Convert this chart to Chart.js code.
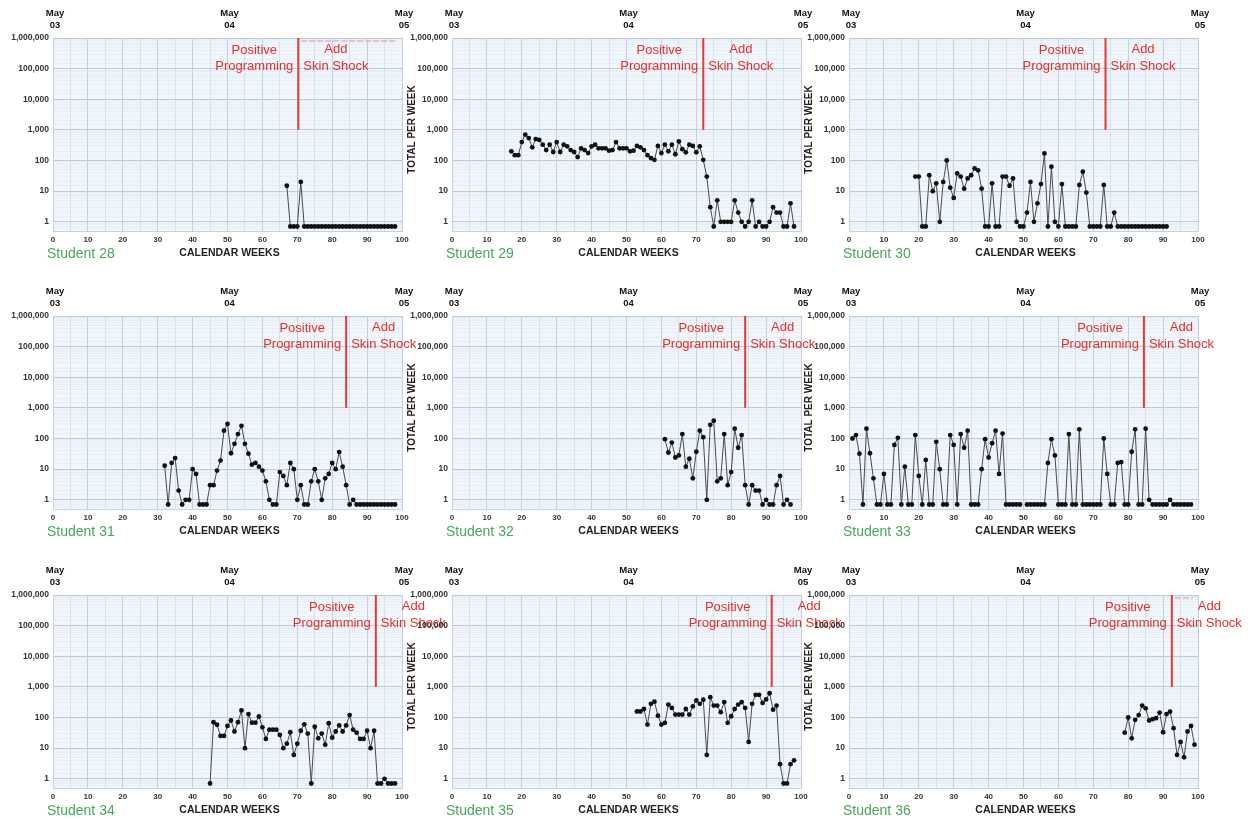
<!DOCTYPE html>
<html>
<head>
<meta charset="utf-8">
<script src="https://cdn.jsdelivr.net/npm/chart.js@4.4.1/dist/chart.umd.min.js"></script>
<style>
  html, body { margin: 0; padding: 0; background: #fff; overflow: hidden; }
  #wrap { position: relative; width: 1253px; height: 819px; }
  canvas { position: absolute; }
</style>
</head>
<body>
<div id="wrap"></div>
<script>
// weekly totals, 0 = no behaviors that week, null = no data
const students = ['Student 28', 'Student 29', 'Student 30', 'Student 31', 'Student 32', 'Student 33', 'Student 34', 'Student 35', 'Student 36'];
const startWeeks = [67, 17, 19, 32, 61, 1, 45, 53, 79];
const phaseWeeks = [70.3, 72, 73.5, 84, 84, 84.5, 92.5, 91.6, 92.5];

const s28 = [15, 0, 0, 0, 20, 0, 0, 0, 0, 0, 0, 0, 0, 0, 0, 0, 0, 0, 0, 0, 0, 0, 0, 0, 0, 0, 0, 0, 0, 0, 0, 0];
const s29 = [200, 150, 150, 400, 700, 540, 270, 500, 470, 330,
  220, 330, 190, 400, 190, 330, 290, 220, 190, 130,
  250, 220, 175, 290, 330, 250, 250, 250, 210, 220,
  400, 250, 250, 250, 200, 210, 300, 270, 220, 150,
  120, 105, 300, 175, 330, 200, 330, 160, 420, 235,
  185, 330, 300, 185, 290, 105, 30, 3, 0, 5,
  1, 1, 1, 1, 5, 2, 1, 0, 1, 5,
  0, 1, 0, 0, 1, 3, 2, 2, 0, 0,
  4, 0];
const s30 = [30, 30, 0, 0, 33, 10, 18, 1, 20, 100, 13, 6, 38, 30, 12, 26, 33, 55, 48, 12,
  0, 0, 18, 0, 0, 30, 30, 15, 26, 1, 0, 0, 2, 20, 1, 4, 17, 170, 0, 63,
  1, 0, 17, 0, 0, 0, 0, 16, 43, 9, 0, 0, 0, 0, 16, 0, 0, 2,
  0, 0, 0, 0, 0, 0, 0, 0, 0, 0, 0, 0, 0, 0, 0];
const s31 = [13, 0, 16, 23, 2, 0, 1, 1, 10, 7, 0, 0, 0, 3, 3, 9, 19, 180, 300, 33,
  67, 140, 260, 67, 32, 14, 16, 12, 9, 4, 1, 0, 0, 8, 6, 3, 16, 10, 1, 3,
  0, 0, 4, 10, 4, 1, 5, 7, 16, 10, 36, 12, 3, 0, 1,
  0, 0, 0, 0, 0, 0, 0, 0, 0, 0, 0, 0];
const s32 = [95, 35, 74, 24, 28, 140, 12, 22, 5, 37, 180, 110, 1, 280, 380, 4, 5, 140, 3, 8,
  210, 50, 130, 3, 0, 3, 2, 2, 0, 1, 0, 0, 3, 6, 0, 1, 0];
const s33 = [100, 130, 32, 0, 210, 33, 5, 0, 0, 7, 0, 0, 62, 105, 0, 12, 0, 0, 130, 6,
  0, 20, 0, 0, 78, 10, 0, 0, 130, 62, 0, 140, 50, 180, 0, 0, 0, 10, 95, 24,
  70, 180, 7, 145, 0, 0, 0, 0, 0, null, 0, 0, 0, 0, 0, 0, 16, 95, 28, 0,
  0, 0, 140, 0, 0, 200, 0, 0, 0, 0, 0, 0, 100, 7, 0, 0, 16, 17, 0, 0,
  37, 200, 0, 0, 210, 1, 0, 0, 0, 0, 0, 1, 0, 0, 0, 0, 0, 0];
const s34 = [0, 70, 58, 25, 25, 53, 80, 35, 70, 170, 10, 130, 68, 68, 108, 48, 20, 40, 40, 40,
  27, 10, 14, 33, 6, 14, 37, 60, 30, 0, 50, 21, 30, 13, 65, 22, 35, 55, 35, 55,
  120, 40, 32, 20, 20, 37, 10, 37, 0, 0, 1, 0, 0, 0];
const s35 = [157, 157, 190, 59, 280, 330, 115, 59, 67, 265, 206, 125, 125, 125, 190, 125, 230, 360, 280, 380,
  6, 460, 245, 245, 150, 320, 67, 110, 190, 265, 320, 206, 16, 280, 550, 550, 300, 390, 620, 180,
  245, 3, 0, 0, 3, 4];
const s36 = [32, 100, 21, 84, 120, 245, 200, 80, 88, 95, 145, 33, 130, 155, 45, 6, 16, 5, 35, 53, 13];

const seriesList = [s28, s29, s30, s31, s32, s33, s34, s35, s36];
const dateMarks = [[0, '03'], [50, '04'], [100, '05']];
const pinkTop = ['Student 28', 'Student 36'];

const ZERO_LEVEL = 0.7;   // where a zero week sits below the "1" line
const Y_MIN = 0.5, Y_MAX = 1000000;

// layout of the 3x3 sheet
const plotLefts = [53, 452, 849];
const plotTops = [38, 316, 595];
const PLOT_W = 349, PLOT_H = 193;
const AXIS_W = 53, PAD_TOP = 38;
const CW = 470, CH = 275;

const FONT = "'Liberation Sans', Arial, sans-serif";

function isDecade(v) {
  const l = Math.log10(v);
  return Math.abs(l - Math.round(l)) < 1e-9;
}

function decorPlugin(name, phase, col) {
  return {
    id: 'decor',
    beforeDraw(chart) {
      const a = chart.chartArea;
      const ctx = chart.ctx;
      ctx.save();
      ctx.fillStyle = '#f0f6fb';
      ctx.fillRect(a.left, a.top, a.right - a.left, a.bottom - a.top);
      ctx.restore();
    },
    afterDraw(chart) {
      const a = chart.chartArea;
      const ctx = chart.ctx;
      const xs = chart.scales.x, ys = chart.scales.y;
      ctx.save();

      // date marks over the plot
      ctx.fillStyle = '#111';
      ctx.textAlign = 'center';
      ctx.textBaseline = 'middle';
      ctx.font = 'bold 9.5px ' + FONT;
      dateMarks.forEach(([w, d]) => {
        const px = xs.getPixelForValue(w) + 2;
        ctx.fillText('May', px, a.top - 25);
        ctx.fillText(d, px, a.top - 13);
      });

      // axis titles
      ctx.font = 'bold 10.5px ' + FONT;
      ctx.fillStyle = '#222';
      ctx.fillText('CALENDAR WEEKS', xs.getPixelForValue(50) + 2, a.bottom + 22);
      if (col > 0) {
        ctx.save();
        ctx.translate(a.left - 40, (a.top + a.bottom) / 2 - 5);
        ctx.rotate(-Math.PI / 2);
        ctx.font = 'bold 10px ' + FONT;
        ctx.fillText('TOTAL PER WEEK', 0, 0);
        ctx.restore();
      }

      ctx.textAlign = 'left';
      ctx.font = '14px ' + FONT;
      ctx.fillStyle = '#45a85a';
      ctx.fillText(name, a.left - 6, a.bottom + 23);

      // phase change line
      const lx = xs.getPixelForValue(phase);
      ctx.strokeStyle = '#e53935';
      ctx.lineWidth = 2;
      ctx.beginPath();
      ctx.moveTo(lx, a.top);
      ctx.lineTo(lx, ys.getPixelForValue(1000));
      ctx.stroke();

      if (pinkTop.includes(name)) {
        ctx.strokeStyle = 'rgba(235,120,150,0.55)';
        ctx.lineWidth = 1.5;
        ctx.setLineDash([6, 2]);
        ctx.beginPath();
        ctx.moveTo(lx + 3, a.top + 3);
        ctx.lineTo(a.right - 5, a.top + 3);
        ctx.stroke();
        ctx.setLineDash([]);
      }

      ctx.fillStyle = '#e2302a';
      ctx.font = '13px ' + FONT;
      ctx.textAlign = 'center';
      const wP = ctx.measureText('Programming').width;
      const cL = lx - 5 - wP / 2;
      ctx.fillText('Positive', cL, a.top + 12);
      ctx.fillText('Programming', cL, a.top + 28);
      const wS = ctx.measureText('Skin Shock').width;
      const cR = lx + 5 + wS / 2;
      ctx.fillText('Add', cR, a.top + 11);
      ctx.fillText('Skin Shock', cR, a.top + 28);

      ctx.restore();
    }
  };
}

function drawPanel(i) {
  const row = Math.floor(i / 3), col = i % 3;
  const canvas = document.createElement('canvas');
  canvas.width = CW;
  canvas.height = CH;
  canvas.style.left = (plotLefts[col] - AXIS_W) + 'px';
  canvas.style.top = (plotTops[row] - PAD_TOP) + 'px';
  document.getElementById('wrap').appendChild(canvas);

  const start = startWeeks[i];
  const points = seriesList[i].map((v, k) => ({
    x: start + k,
    y: v === null ? null : (v === 0 ? ZERO_LEVEL : v)
  }));

  new Chart(canvas.getContext('2d'), {
    type: 'line',
    data: {
      datasets: [{
        data: points,
        borderColor: '#4a4a4a',
        borderWidth: 1,
        pointRadius: 2.4,
        pointBackgroundColor: '#111',
        pointBorderWidth: 0,
        tension: 0,
        spanGaps: false
      }]
    },
    options: {
      responsive: false,
      devicePixelRatio: 1,
      animation: false,
      layout: { padding: { top: PAD_TOP, right: CW - AXIS_W - PLOT_W, left: 0, bottom: 0 } },
      plugins: { legend: { display: false }, tooltip: { enabled: false } },
      scales: {
        x: {
          type: 'linear',
          min: 0,
          max: 100,
          afterFit: s => { s.height = CH - PAD_TOP - PLOT_H; },
          border: { color: '#c4d3e1' },
          grid: {
            drawTicks: false,
            color: c => (c.tick.value % 10 === 0 ? '#bfcfdd' : '#d6e2ec'),
            lineWidth: 1
          },
          ticks: {
            stepSize: 5,
            autoSkip: false,
            maxRotation: 0,
            padding: 4,
            color: '#333',
            font: { family: FONT, size: 8, weight: 'bold' },
            callback: v => (v % 10 === 0 ? String(v) : '')
          }
        },
        y: {
          type: 'logarithmic',
          min: Y_MIN,
          max: Y_MAX,
          afterFit: s => { s.width = AXIS_W; },
          border: { color: '#c4d3e1' },
          grid: {
            drawTicks: false,
            color: c => (isDecade(c.tick.value) ? '#bccbda' : 'rgba(214,226,236,0.35)'),
            lineWidth: 1
          },
          ticks: {
            autoSkip: false,
            padding: 4,
            color: '#333',
            font: { family: FONT, size: 8.5, weight: 'bold' },
            callback: v => (isDecade(v) && v >= 1 ? Number(v).toLocaleString('en-US') : '')
          }
        }
      }
    },
    plugins: [decorPlugin(students[i], phaseWeeks[i], col)]
  });
}

for (let i = 0; i < students.length; i++) drawPanel(i);
</script>
</body>
</html>
